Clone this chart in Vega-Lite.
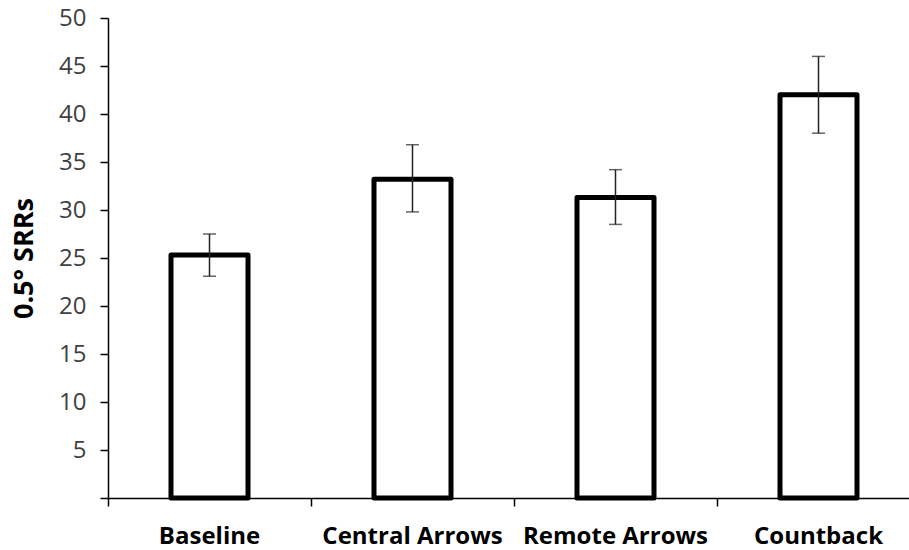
{
  "$schema": "https://vega.github.io/schema/vega-lite/v6.json",
  "autosize": {"type": "none"},
  "padding": {"left": 108, "top": 18, "right": 0, "bottom": 52},
  "width": 801,
  "height": 480,
  "background": "white",
  "config": {
    "view": {"stroke": null},
    "axisY": {
      "grid": false, "domainColor": "black", "domainWidth": 1.5, "tickColor": "black", "tickWidth": 1.5, "tickSize": 8,
      "labelFont": "Open Sans", "labelFontSize": 24, "labelColor": "#404040", "labelPadding": 14,
      "titleFont": "Open Sans", "titleFontWeight": "bold", "titleFontSize": 27, "titleColor": "black", "titlePadding": 20
    },
    "axisX": {
      "domainColor": "black", "domainWidth": 1.5, "tickColor": "black", "tickWidth": 1.5, "tickSize": 8,
      "labelFont": "Open Sans", "labelFontWeight": "bold", "labelFontSize": 24, "labelColor": "black",
      "labelPadding": 18, "labelBound": false, "labelOverlap": false, "labelLimit": 0
    }
  },
  "data": {"values": [
    {"cond": "Baseline", "mean": 25.3, "lo": 23.1, "hi": 27.5},
    {"cond": "Central Arrows", "mean": 33.2, "lo": 29.8, "hi": 36.8},
    {"cond": "Remote Arrows", "mean": 31.3, "lo": 28.5, "hi": 34.2},
    {"cond": "Countback", "mean": 42.0, "lo": 38.0, "hi": 46.0}
  ]},
  "encoding": {
    "x": {
      "field": "cond", "type": "nominal", "sort": null,
      "scale": {"range": [0, 812], "paddingInner": 0, "paddingOuter": 0},
      "axis": {"title": null, "labelAngle": 0, "bandPosition": 0}
    }
  },
  "layer": [
    {
      "mark": {"type": "bar", "fill": "white", "stroke": "black", "strokeWidth": 5, "strokeJoin": "round", "size": 77},
      "encoding": {
        "y": {
          "field": "mean", "type": "quantitative",
          "scale": {"domain": [0, 50], "nice": false, "zero": true},
          "axis": {
            "title": "0.5° SRRs", "values": [0,5,10,15,20,25,30,35,40,45,50],
            "labelExpr": "datum.value == 0 ? '' : datum.label"
          }
        }
      }
    },
    {
      "mark": {"type": "rule", "color": "#222222", "strokeWidth": 1.5},
      "encoding": {"y": {"field": "lo", "type": "quantitative"}, "y2": {"field": "hi"}}
    },
    {
      "mark": {"type": "tick", "color": "#222222", "thickness": 1.5, "size": 13},
      "encoding": {"y": {"field": "lo", "type": "quantitative"}}
    },
    {
      "mark": {"type": "tick", "color": "#222222", "thickness": 1.5, "size": 13},
      "encoding": {"y": {"field": "hi", "type": "quantitative"}}
    }
  ]
}
